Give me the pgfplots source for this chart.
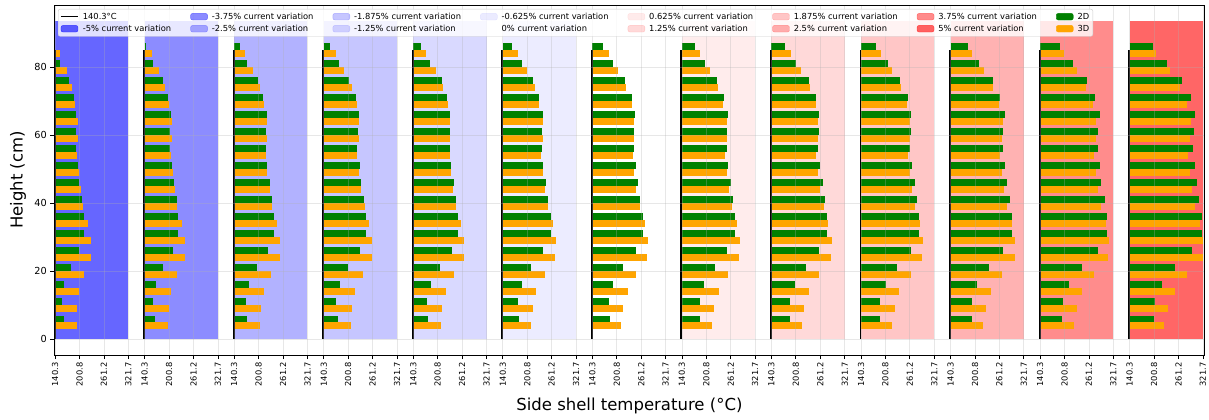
\documentclass[border=0pt]{standalone}
\usepackage{pgfplots}
\pgfplotsset{compat=1.18}
\usepackage{pgfplotstable}
\usepackage{fontspec}
\setmainfont{DejaVu Sans}

\definecolor{barGreen}{RGB}{0,128,0}
\definecolor{barOrange}{RGB}{255,165,0}
\definecolor{gridGray}{RGB}{176,176,176}

% Side shell temperature (degC) per height; gN = 2D model, oN = 3D model,
% panel N = current variation -5, -3.75, -2.5, -1.875, -1.25, -0.625, 0,
%           0.625, 1.25, 1.875, 2.5, 3.75, 5 %
\pgfplotstableread{
h  g0    o0    g1    o1    g2    o2    g3    o3    g4    o4    g5    o5    g6    o6    g7    o7    g8    o8    g9    o9    g10   o10   g11   o11   g12   o12
85 140.3 151.8 143.6 158.4 153.5 166.7 155.1 170.0 158.4 172.5 164.2 177.4 166.7 180.7 171.6 184.0 174.1 188.1 178.2 190.6 182.4 193.9 189.8 199.7 198.0 205.4
80 153.5 169.2 161.7 175.8 172.5 186.5 177.4 191.4 182.4 196.4 187.3 201.3 192.2 203.8 198.0 209.6 202.1 213.7 206.3 217.8 211.2 223.6 221.1 231.0 231.8 240.1
75 174.9 183.2 185.6 190.6 198.0 203.8 203.0 209.6 210.4 213.7 215.3 219.5 221.9 224.4 226.9 229.3 234.3 235.1 237.6 240.1 245.0 245.0 256.6 254.9 269.7 264.8
70 187.3 190.6 197.2 200.5 212.0 213.7 219.5 221.9 224.4 225.2 231.0 231.0 237.6 237.6 245.0 242.5 251.6 250.0 257.4 253.3 263.2 260.7 276.3 270.6 291.2 281.3
65 193.1 197.2 205.4 207.9 220.3 220.3 226.9 226.9 231.8 231.8 239.2 239.2 245.8 243.4 253.3 250.8 259.0 254.9 264.8 260.7 274.7 268.9 288.7 278.8 302.7 291.2
60 193.1 197.2 203.0 207.9 217.8 220.3 225.2 226.9 231.8 231.8 236.8 239.2 244.2 244.2 250.8 250.8 257.4 254.9 263.2 260.7 270.6 266.4 284.6 278.8 299.4 288.7
55 193.1 194.7 203.0 205.4 217.8 217.8 222.8 222.8 230.2 230.2 236.8 234.3 244.2 241.7 250.8 246.7 254.9 251.6 260.7 257.4 268.9 263.2 282.9 274.7 297.0 284.6
50 197.2 198.8 207.9 209.6 221.9 221.9 229.3 226.9 234.3 233.5 240.9 239.2 247.5 244.2 254.9 250.8 261.5 254.9 267.3 260.7 274.7 266.4 288.7 278.8 301.1 288.7
45 200.5 204.6 213.7 215.3 227.7 227.7 233.5 232.6 240.1 237.6 246.7 244.2 253.3 249.1 260.7 256.6 267.3 260.7 273.0 267.3 280.5 273.0 292.0 284.6 306.8 294.5
40 207.1 210.4 219.5 221.1 233.5 233.5 239.2 241.7 245.8 245.8 252.4 252.4 259.0 257.4 266.5 264.8 273.0 269.7 278.8 274.7 286.2 280.5 300.3 292.0 312.6 302.7
35 212.0 222.8 223.6 233.5 237.6 245.8 245.0 251.6 251.6 257.4 259.0 264.0 264.8 269.7 272.2 276.3 278.8 281.3 284.6 287.1 292.8 292.8 306.0 304.4 318.4 315.1
30 212.0 230.2 223.6 240.9 237.6 253.3 245.0 259.9 251.6 264.8 259.0 272.2 264.8 277.2 272.2 283.8 278.8 289.5 284.6 294.5 292.8 300.3 306.0 311.8 318.4 321.7
25 198.8 230.2 209.6 240.9 223.6 253.3 229.3 259.0 235.9 264.8 240.9 270.6 247.5 274.7 252.4 282.1 259.0 287.1 264.8 292.0 270.6 298.6 282.9 308.5 294.5 320.9
20 179.1 212.0 185.6 221.1 196.4 231.8 200.5 236.8 206.3 241.7 211.2 244.2 216.2 249.1 221.1 254.9 226.0 259.0 229.3 263.2 235.1 266.4 245.0 274.7 253.3 282.9
15 161.7 198.8 167.5 205.4 176.6 213.7 179.9 217.0 184.8 220.3 187.3 222.8 190.6 227.7 195.5 231.0 198.0 233.5 202.1 235.1 205.4 239.2 211.2 245.0 220.3 251.6
10 157.6 194.7 161.7 199.7 168.3 206.3 171.6 209.6 174.9 212.0 177.4 215.3 180.7 216.2 184.0 219.5 186.5 221.9 188.1 223.6 192.2 226.9 198.0 231.0 202.1 235.1
5  161.7 194.7 165.9 198.0 172.5 203.8 175.8 207.1 176.6 207.9 179.9 211.2 183.2 212.0 185.6 215.3 186.5 216.2 188.1 217.8 192.2 219.5 195.5 223.6 200.5 225.2
}\temps

% horizontal distance between the starts of two neighbouring panels
\newcommand{\panelstep}{221.6}
% lowest temperature = left edge of every panel
\newcommand{\tbase}{140.3}

% shaded background of one panel: index, colour, opacity
\newcommand{\panelbg}[3]{%
  \addplot[forget plot, draw=none, fill=#2, fill opacity=#3,
    x filter/.expression={x+#1*\panelstep}]
    coordinates {(0,0) (181.4,0) (181.4,93.5) (0,93.5)};
}

\begin{document}
\begin{tikzpicture}
\begin{axis}[
  name=ax,
  scale only axis, width=1150.2pt, height=350pt,
  xmin=-2, xmax=2844.5, ymin=-4.6, ymax=98.2,
  axis on top,
  tick pos=left, tick align=outside, major tick length=4pt,
  tick style={black, line width=0.8pt},
  axis line style={line width=0.8pt},
  grid=major, major grid style={gridGray, opacity=0.3, line width=0.8pt},
  xtick={0,60.47,120.93,181.4,
         221.6,282.07,342.53,403.0,
         443.2,503.67,564.13,624.6,
         664.8,725.27,785.73,846.2,
         886.4,946.87,1007.33,1067.8,
         1108.0,1168.47,1228.93,1289.4,
         1329.6,1390.07,1450.53,1511.0,
         1551.2,1611.67,1672.13,1732.6,
         1772.8,1833.27,1893.73,1954.2,
         1994.4,2054.87,2115.33,2175.8,
         2216.0,2276.47,2336.93,2397.4,
         2437.6,2498.07,2558.53,2619.0,
         2659.2,2719.67,2780.13,2840.6},
  xticklabels={140.3,200.8,261.2,321.7,140.3,200.8,261.2,321.7,
               140.3,200.8,261.2,321.7,140.3,200.8,261.2,321.7,
               140.3,200.8,261.2,321.7,140.3,200.8,261.2,321.7,
               140.3,200.8,261.2,321.7,140.3,200.8,261.2,321.7,
               140.3,200.8,261.2,321.7,140.3,200.8,261.2,321.7,
               140.3,200.8,261.2,321.7,140.3,200.8,261.2,321.7,
               140.3,200.8,261.2,321.7},
  ytick={0,20,40,60,80},
  /pgf/number format/assume math mode=true,
  xticklabel style={rotate=90, anchor=east, font=\fontsize{8.3}{10}\selectfont},
  yticklabel style={font=\fontsize{9.7}{11}\selectfont},
  xlabel={Side shell temperature (°C)},
  ylabel={Height (cm)},
  label style={font=\fontsize{16.5}{19}\selectfont},
  xlabel style={at={(axis description cs:0.5,-0.1457)}, anchor=center},
  ylabel style={at={(axis description cs:-0.0316,0.5)}, anchor=center},
  legend columns=8,
  legend cell align=left,
  legend image code/.code={\draw[#1] (0pt,-3.3pt) rectangle (17pt,3.3pt);},
  legend style={at={(axis description cs:0,1)}, anchor=north west,
    xshift=3.7pt, yshift=-4pt,
    draw=gray!40, fill=white, fill opacity=0.8, text opacity=1,
    rounded corners=2pt, inner sep=2pt,
    font=\fontsize{8.33}{10}\selectfont,
    nodes={inner sep=1.6pt}, row sep=1pt,
    /tikz/every odd column/.append style={column sep=2.5pt},
    /tikz/every even column/.append style={column sep=17.5pt}},
]

% panel backgrounds (blue = negative, red = positive current variation)
\panelbg{0}{blue}{0.6}
\panelbg{1}{blue}{0.45}
\panelbg{2}{blue}{0.3}
\panelbg{3}{blue}{0.225}
\panelbg{4}{blue}{0.15}
\panelbg{5}{blue}{0.075}
\panelbg{7}{red}{0.075}
\panelbg{8}{red}{0.15}
\panelbg{9}{red}{0.225}
\panelbg{10}{red}{0.3}
\panelbg{11}{red}{0.45}
\panelbg{12}{red}{0.6}

% horizontal bars: drawn as thick error bars starting at each panel's 140.3 line
\pgfplotsinvokeforeach{0,...,12}{
  \addplot[forget plot, draw=none, mark=none,
    error bars/.cd, x dir=plus, x explicit, error mark=none,
    error bar style={line width=6.81pt, draw=barGreen}]
    table[x expr={#1*\panelstep}, y expr={\thisrow{h}+1},
          x error expr={\thisrow{g#1}-\tbase}] {\temps};
  \addplot[forget plot, draw=none, mark=none,
    error bars/.cd, x dir=plus, x explicit, error mark=none,
    error bar style={line width=6.81pt, draw=barOrange}]
    table[x expr={#1*\panelstep}, y expr={\thisrow{h}-1},
          x error expr={\thisrow{o#1}-\tbase}] {\temps};
}

% reference line at 140.3 degC in every panel (a narrow filled strip)
\pgfplotsinvokeforeach{0,...,12}{
  \addplot[forget plot, draw=none, fill=black,
    x filter/.expression={x+#1*\panelstep}]
    coordinates {(-3.7,0) (1.2,0) (1.2,85) (-3.7,85)};
}

% legend, filled row by row
\addlegendimage{line legend, black, line width=1.5pt}
\addlegendentry{140.3°C}
\addlegendimage{fill=blue, fill opacity=0.45, draw=blue, draw opacity=0.45}
\addlegendentry{-3.75\% current variation}
\addlegendimage{fill=blue, fill opacity=0.225, draw=blue, draw opacity=0.225}
\addlegendentry{-1.875\% current variation}
\addlegendimage{fill=blue, fill opacity=0.075, draw=blue, draw opacity=0.075}
\addlegendentry{-0.625\% current variation}
\addlegendimage{fill=red, fill opacity=0.075, draw=red, draw opacity=0.075}
\addlegendentry{0.625\% current variation}
\addlegendimage{fill=red, fill opacity=0.225, draw=red, draw opacity=0.225}
\addlegendentry{1.875\% current variation}
\addlegendimage{fill=red, fill opacity=0.45, draw=red, draw opacity=0.45}
\addlegendentry{3.75\% current variation}
\addlegendimage{fill=barGreen, fill opacity=1, draw=barGreen}
\addlegendentry{2D}
\addlegendimage{fill=blue, fill opacity=0.6, draw=blue, draw opacity=0.6}
\addlegendentry{-5\% current variation}
\addlegendimage{fill=blue, fill opacity=0.3, draw=blue, draw opacity=0.3}
\addlegendentry{-2.5\% current variation}
\addlegendimage{fill=blue, fill opacity=0.15, draw=blue, draw opacity=0.15}
\addlegendentry{-1.25\% current variation}
\addlegendimage{fill=white, fill opacity=0, draw=white, draw opacity=0}
\addlegendentry{0\% current variation}
\addlegendimage{fill=red, fill opacity=0.15, draw=red, draw opacity=0.15}
\addlegendentry{1.25\% current variation}
\addlegendimage{fill=red, fill opacity=0.3, draw=red, draw opacity=0.3}
\addlegendentry{2.5\% current variation}
\addlegendimage{fill=red, fill opacity=0.6, draw=red, draw opacity=0.6}
\addlegendentry{5\% current variation}
\addlegendimage{fill=barOrange, fill opacity=1, draw=barOrange}
\addlegendentry{3D}
\end{axis}
\pgfresetboundingbox
\path[use as bounding box] ([shift={(-54.3pt,-64pt)}]ax.south west)
  rectangle ([shift={(4.5pt,5pt)}]ax.north east);
\end{tikzpicture}
\end{document}
